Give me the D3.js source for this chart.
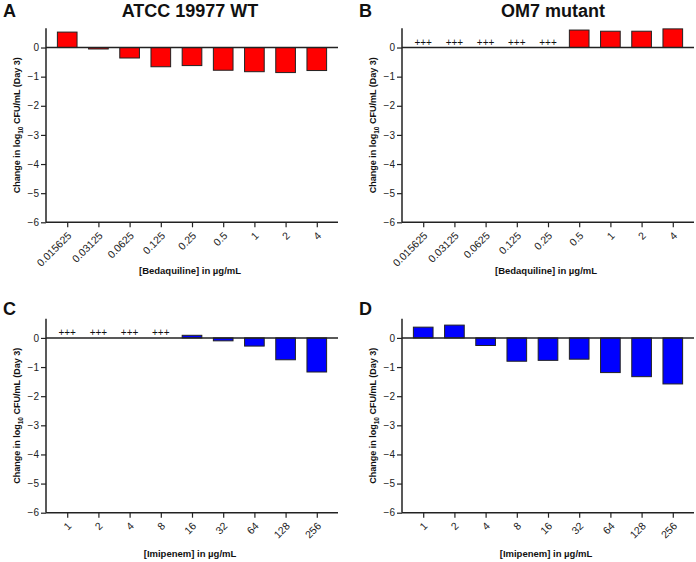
<!DOCTYPE html>
<html><head><meta charset="utf-8">
<script src="https://cdn.jsdelivr.net/npm/d3@7"></script>
<style>
body{margin:0;background:#fff;}
svg{display:block;font-family:Arial,"Liberation Sans",sans-serif;}
</style></head><body>
<svg id="c" width="696" height="562"></svg>
<script>
const bedaquilineDoses = ["0.015625","0.03125","0.0625","0.125","0.25","0.5","1","2","4"];
const imipenemDoses = ["1","2","4","8","16","32","64","128","256"];
const wtBedaquiline = [0.53,-0.05,-0.36,-0.66,-0.62,-0.78,-0.83,-0.86,-0.79];
const om7Bedaquiline = [null,null,null,null,null,0.60,0.56,0.56,0.64];
const wtImipenem = [null,null,null,null,0.09,-0.10,-0.28,-0.75,-1.17];
const om7Imipenem = [0.37,0.44,-0.26,-0.80,-0.77,-0.73,-1.19,-1.33,-1.58];
const yTicks = [0,-1,-2,-3,-4,-5,-6];
const overgrowthLabel = "+++";

const panels = [
  {letter:"A", title:"ATCC 19977 WT", cats:bedaquilineDoses, vals:wtBedaquiline, color:"#ff0000", x0:46, x1:338, yTop:28.3, yBot:222.3, lx:3, ly:17, tx:190, xl:"[Bedaquiline] in µg/mL", xly:274},
  {letter:"B", title:"OM7 mutant", cats:bedaquilineDoses, vals:om7Bedaquiline, color:"#ff0000", x0:402, x1:694, yTop:28.3, yBot:222.3, lx:359, ly:17, tx:553, xl:"[Bedaquiline] in µg/mL", xly:274},
  {letter:"C", title:"", cats:imipenemDoses, vals:wtImipenem, color:"#0000ff", x0:46, x1:338, yTop:318.7, yBot:512.7, lx:3, ly:315, tx:190, xl:"[Imipenem] in µg/mL", xly:557},
  {letter:"D", title:"", cats:imipenemDoses, vals:om7Imipenem, color:"#0000ff", x0:402, x1:694, yTop:318.7, yBot:512.7, lx:359, ly:315, tx:553, xl:"[Imipenem] in µg/mL", xly:557}
];

const svg = d3.select("#c");
const axisCol = "#222";

panels.forEach(p => {
  const g = svg.append("g");
  const x = d3.scalePoint().domain(p.cats).range([p.x0, p.x1]).padding(0.68);
  const y = d3.scaleLinear().domain([-6, 0.66]).range([p.yBot, p.yTop]);
  const bw = x.step() * 0.63;

  g.append("text").attr("x", p.lx).attr("y", p.ly).attr("font-size", 18).attr("font-weight", "bold").attr("fill", "#111").text(p.letter);
  if (p.title) g.append("text").attr("x", p.tx).attr("y", p.ly).attr("text-anchor", "middle").attr("font-size", 18).attr("font-weight", "bold").attr("fill", "#111").text(p.title);

  p.cats.forEach((c, i) => {
    const v = p.vals[i];
    if (v === null) {
      g.append("text").attr("x", x(c)).attr("y", y(0) - 1.5).attr("text-anchor", "middle")
        .attr("font-size", 10).attr("fill", "#111").text(overgrowthLabel);
    } else {
      g.append("rect").attr("x", x(c) - bw/2).attr("width", bw)
        .attr("y", y(Math.max(0, v))).attr("height", Math.abs(y(v) - y(0)))
        .attr("fill", p.color).attr("stroke", "#222").attr("stroke-width", 1);
    }
  });

  const ya = d3.axisLeft(y).tickValues(yTicks).tickSize(5).tickPadding(2).tickFormat(d3.format("d"));
  const yg = g.append("g").attr("transform", `translate(${p.x0},0)`).call(ya);
  yg.select(".domain").attr("stroke", axisCol).attr("stroke-width", 1.5).attr("d", `M0,${p.yBot}V${p.yTop}`);
  yg.selectAll(".tick line").attr("stroke", axisCol).attr("stroke-width", 1.2);
  yg.selectAll(".tick text").attr("font-size", 10).attr("fill", "#222").attr("font-family", "Arial,'Liberation Sans',sans-serif");

  g.append("line").attr("x1", p.x0).attr("x2", p.x1).attr("y1", y(0)).attr("y2", y(0))
    .attr("stroke", axisCol).attr("stroke-width", 1.5);

  const xa = d3.axisBottom(x).tickSize(5).tickFormat(d => d);
  const xg = g.append("g").attr("transform", `translate(0,${p.yBot})`).call(xa);
  xg.select(".domain").attr("stroke", axisCol).attr("stroke-width", 1.5).attr("d", `M${p.x0},0H${p.x1}`);
  xg.selectAll(".tick line").attr("stroke", axisCol).attr("stroke-width", 1.2);
  xg.selectAll(".tick text").attr("font-size", 10.5).attr("fill", "#222")
    .attr("font-family", "Arial,'Liberation Sans',sans-serif")
    .attr("text-anchor", "end").attr("dy", null).attr("y", 0)
    .attr("transform", "translate(4.5,14) rotate(-45)");

  g.append("text").attr("x", (p.x0 + p.x1)/2 - 2).attr("y", p.xly).attr("text-anchor", "middle")
    .attr("font-size", 9.5).attr("font-weight", "bold").attr("fill", "#111").text(p.xl);

  const yl = g.append("text").attr("transform", `translate(${p.x0 - 26},${(p.yTop + p.yBot)/2}) rotate(-90)`)
    .attr("text-anchor", "middle").attr("font-size", 9).attr("font-weight", "bold").attr("fill", "#111");
  yl.append("tspan").text("Change in log");
  yl.append("tspan").attr("font-size", 6.5).attr("dy", 2.5).text("10");
  yl.append("tspan").attr("dy", -2.5).text(" CFU/mL  (Day 3)");
});
</script>
</body></html>
